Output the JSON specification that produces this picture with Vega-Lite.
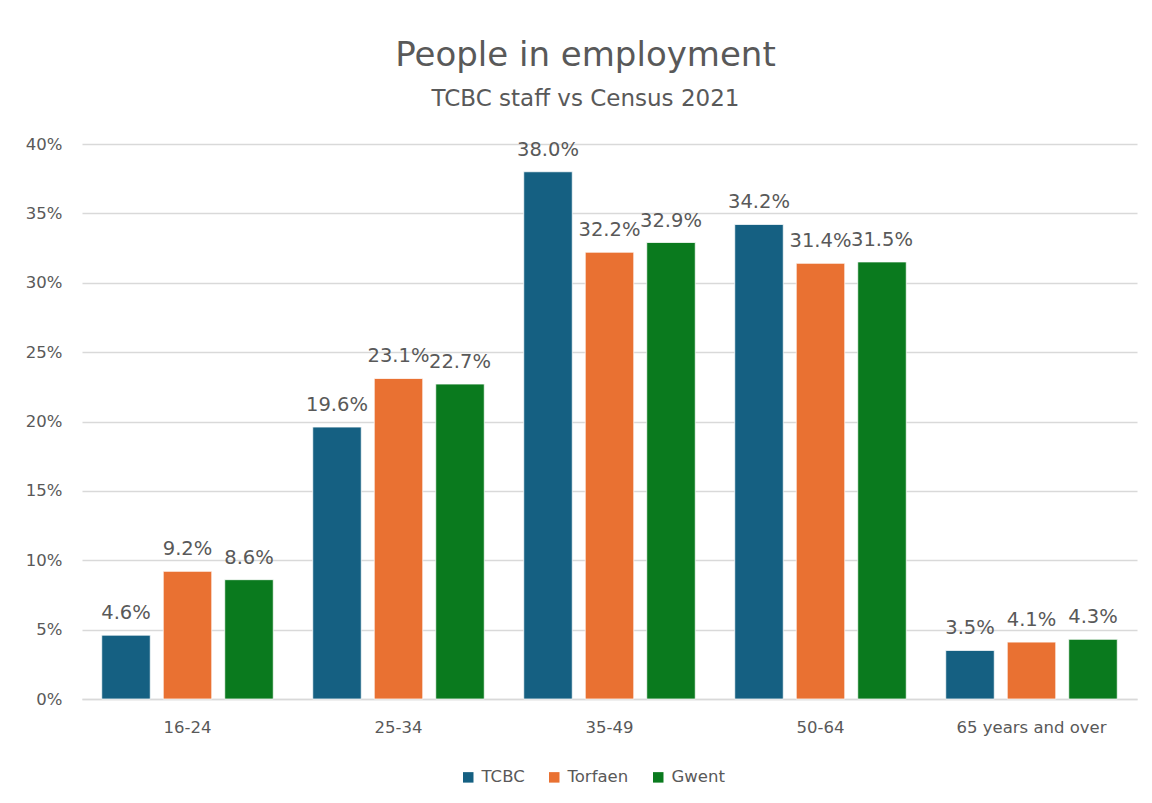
{
  "$schema": "https://vega.github.io/schema/vega-lite/v6.json",
  "width": 1055,
  "height": 555,
  "autosize": {"type": "none"},
  "padding": {"left": 82, "top": 144, "right": 15, "bottom": 104},
  "background": "white",
  "config": {"view": {"stroke": null}},
  "title": {
    "text": "People in employment",
    "subtitle": "TCBC staff vs Census 2021",
    "anchor": "middle",
    "dx": -24,
    "offset": 25,
    "font": "DejaVu Sans",
    "fontSize": 34,
    "fontWeight": "normal",
    "color": "#595959",
    "subtitleFont": "DejaVu Sans",
    "subtitleFontSize": 23,
    "subtitleColor": "#595959",
    "subtitlePadding": 15
  },
  "data": {
    "values": [
      {"age": "16-24", "series": "TCBC", "value": 0.046},
      {"age": "16-24", "series": "Torfaen", "value": 0.092},
      {"age": "16-24", "series": "Gwent", "value": 0.086},
      {"age": "25-34", "series": "TCBC", "value": 0.196},
      {"age": "25-34", "series": "Torfaen", "value": 0.231},
      {"age": "25-34", "series": "Gwent", "value": 0.227},
      {"age": "35-49", "series": "TCBC", "value": 0.380},
      {"age": "35-49", "series": "Torfaen", "value": 0.322},
      {"age": "35-49", "series": "Gwent", "value": 0.329},
      {"age": "50-64", "series": "TCBC", "value": 0.342},
      {"age": "50-64", "series": "Torfaen", "value": 0.314},
      {"age": "50-64", "series": "Gwent", "value": 0.315},
      {"age": "65 years and over", "series": "TCBC", "value": 0.035},
      {"age": "65 years and over", "series": "Torfaen", "value": 0.041},
      {"age": "65 years and over", "series": "Gwent", "value": 0.043}
    ]
  },
  "encoding": {
    "x": {
      "field": "age",
      "type": "nominal",
      "sort": null,
      "title": null,
      "scale": {"paddingInner": 0, "paddingOuter": 0},
      "axis": {
        "labelAngle": 0,
        "labelFont": "DejaVu Sans",
        "labelFontSize": 16.5,
        "labelColor": "#595959",
        "labelPadding": 20,
        "ticks": false,
        "domainColor": "#d9d9d9",
        "domainWidth": 1.5
      }
    },
    "xOffset": {
      "field": "series",
      "type": "nominal",
      "sort": ["TCBC", "Torfaen", "Gwent"],
      "scale": {"paddingInner": 0.211, "paddingOuter": 0.321}
    },
    "y": {
      "field": "value",
      "type": "quantitative",
      "title": null,
      "scale": {"domain": [0, 0.4], "nice": false},
      "axis": {
        "format": ".0%",
        "values": [0, 0.05, 0.1, 0.15, 0.2, 0.25, 0.3, 0.35, 0.4],
        "labelFont": "DejaVu Sans",
        "labelFontSize": 16.5,
        "labelColor": "#595959",
        "labelPadding": 20,
        "ticks": false,
        "domain": false,
        "gridColor": "#d9d9d9",
        "gridWidth": 1.5
      }
    }
  },
  "layer": [
    {
      "mark": {"type": "bar", "stroke": "white", "strokeWidth": 0.75},
      "encoding": {
        "color": {
          "field": "series",
          "type": "nominal",
          "sort": ["TCBC", "Torfaen", "Gwent"],
          "scale": {"domain": ["TCBC", "Torfaen", "Gwent"], "range": ["#156082", "#E97132", "#0A7A1E"]},
          "legend": {
            "title": null,
            "orient": "none",
            "direction": "horizontal",
            "legendX": 378,
            "legendY": 625,
            "symbolType": "square",
            "symbolSize": 110,
            "symbolStrokeWidth": 0,
            "labelFont": "DejaVu Sans",
            "labelFontSize": 16.5,
            "labelColor": "#595959",
            "labelOffset": 5,
            "columnPadding": 21
          }
        }
      }
    },
    {
      "mark": {"type": "text", "baseline": "alphabetic", "dy": -16, "font": "DejaVu Sans", "fontSize": 19.5, "color": "#595959"},
      "encoding": {
        "text": {"field": "value", "type": "quantitative", "format": ".1%"}
      }
    }
  ]
}
